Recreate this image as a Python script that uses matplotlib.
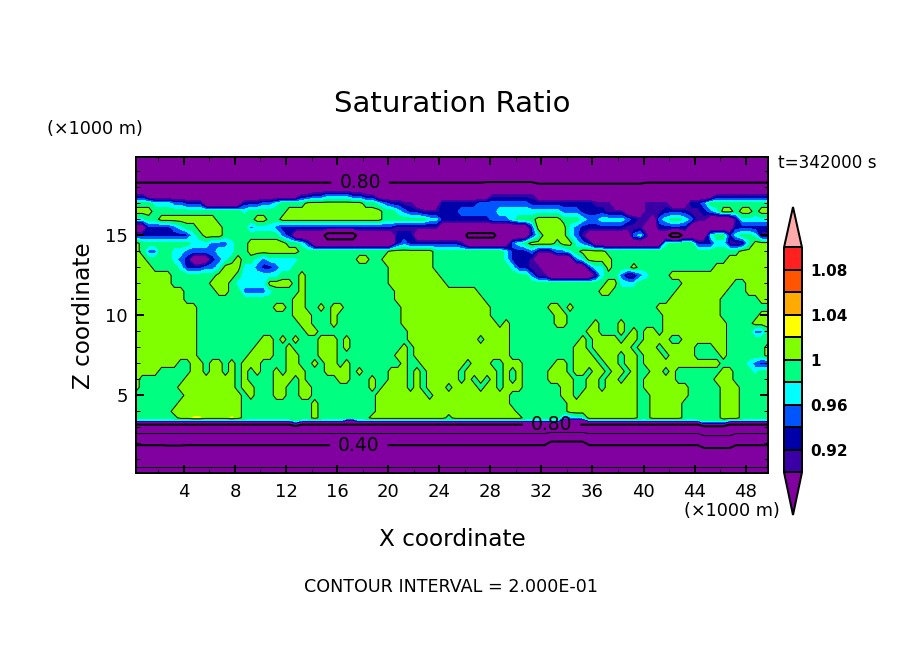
import numpy as np
import matplotlib
matplotlib.use("Agg")
import matplotlib.pyplot as plt

# saturation ratio: one entry per height, each row is
# 100 cells (500 m wide) written as runs, e.g. "G3 L2" = 3 green then 2 lime
cell_values = {
    "P": 0.85, "I": 0.91, "D": 0.93, "B": 0.95, "C": 0.97, "G": 0.99,
    "L": 1.01, "z": 1.022, "x": 0.75, "w": 0.78,
    "s": 0.70, "r": 0.72, "t": 0.75, "v": 0.76,
    "k": 0.69, "i": 0.44, "h": 0.50, "j": 0.56,
    "f": 0.29, "d": 0.34, "c": 0.33, "e": 0.37, "b": 0.29, "a": 0.12,
}

heights = [
    19.9, 18.6, 18.0, 17.5, 17.0, 16.5, 16.0, 15.5, 15.0, 14.5, 14.0, 13.5,
    13.0, 12.5, 12.0, 11.5, 11.0, 10.5, 10.0, 9.5, 9.0, 8.5, 8.0, 7.5, 7.0,
    6.5, 6.0, 5.5, 5.0, 4.5, 4.0, 3.6, 3.45, 3.3, 2.9, 2.3, 1.6, 1.0, 0.15,
]

rows = [
    "s100",
    "t55 v8 r17 t20",
    "P100",
    "I2 P24 I2 D2 B4 D2 I2 P18 I7 P28 I9",
    "G3 C3 B2 D3 P6 D3 B2 C1 G4 L9 G2 C1 B1 D2 I2 P4 D6 B8 D10 I3 P5 I4 P3 D2 B1 G10",
    "L3 G14 C1 G6 L15 G2 C1 B1 D2 I3 D3 B6 C10 B3 D4 I3 P3 I3 D4 I2 D1 B1 C1 L2 G1 L2 G1 L2",
    "C2 G2 L9 G6 L2 G2 L16 G7 C2 D8 B3 C1 G3 L4 G3 C1 B2 C4 B1 D1 I2 P1 B1 C1 G2 C1 B1 I2 P4 I1 C5",
    "P2 D4 B1 C1 G2 L4 G4 B1 C3 B1 D18 I7 P14 D1 L5 C1 B1 D7 I3 P2 D5 P7 D6",
    "D9 C1 G1 L3 G9 B1 D1 P5 x5 P6 D3 P8 w5 P5 D1 C1 L4 C1 B1 I1 P7 B1 C1 I1 P3 x2 P4 C1 G2 D1 C1 G2 C1 I2",
    "L1 G8 C3 B3 C1 G2 L6 G2 C1 D1 P13 D1 B1 D8 I1 P7 B1 C1 G1 L4 G1 L2 C1 B1 D1 P11 C1 G4 D3 C2 I3 C1 L3",
    "L1 G1 B2 G2 C2 B5 C3 G2 L8 G14 L7 G3 G8 C1 D3 B1 I3 B2 C1 G1 L4 G21 L5",
    "L2 G4 C1 B1 D1 P3 D1 B1 C1 G1 L1 G2 C1 B1 C5 G9 L2 G2 L8 G3 G8 C1 D3 I1 P6 B1 C1 L4 G18 L7",
    "L3 G4 C1 D3 B2 C1 L3 C2 B1 D2 B1 C2 G15 L7 G3 G9 C1 D2 I2 P7 D1 C2 L1 G3 L1 G12 L9",
    "L6 G7 L3 G1 C6 G3 L1 G13 L8 G2 G12 B1 I2 P7 I1 C1 G2 B1 I2 B1 C1 G3 L16",
    "L6 G6 L3 G1 C5 L4 G1 L1 G13 L9 G1 G24 L2 C3 G7 L8 G2 L4",
    "L8 G5 L2 G2 B4 C1 G4 L1 G14 L9 L4 G19 L2 G10 L8 G3 L4",
    "L8 G17 L2 G14 L9 L5 G29 L8 G6 L2",
    "L10 G12 L2 G1 L2 G2 L1 G1 L2 G9 L8 L6 G9 L2 G1 L1 G13 L10 G8",
    "L10 G15 L3 G3 L1 G10 L8 L6 G10 L2 G15 L9 G6 L2",
    "L10 G16 L2 G3 L1 G10 L8 L7 G1 L1 G7 L2 G4 L1 G3 L1 G6 L10 G4 L3",
    "L10 G17 L2 G14 L7 L9 G12 L2 G3 L1 G1 L1 G1 L2 G1 L10 G4 B2 G1",
    "L10 G10 L2 G1 L1 G1 L1 G3 L3 G1 L1 G9 L7 L4 G1 L4 G11 L1 G1 L4 G1 L2 G1 L4 G2 L7 G7",
    "L10 G9 L3 G2 L1 G4 L3 G1 L1 G8 L1 G1 L6 L9 G10 L2 G1 L6 G1 L3 G1 L5 G3 L2 G6 L1",
    "L10 G8 L4 G2 L2 G3 L3 G9 L2 G1 L6 L9 G10 L3 G1 L3 G1 L2 G1 L3 G1 L4 G4 L1 G6 L1",
    "L7 G2 L2 G1 L2 G1 L1 G1 L3 G4 L2 G2 L1 G1 L2 G1 L1 G8 L1 G2 L5 L2 G1 L3 G2 L3 G5 L2 G1 L4 G1 L2 G1 L2 G1 L12 G4 C1 B1 D2",
    "L4 G5 L2 G1 L2 G1 L1 G1 L1 G1 L1 G2 L1 G1 L3 G3 L4 G1 L1 G4 L3 G1 L1 G1 L4 L1 G1 L5 G1 L1 G1 L1 G4 L3 G1 L2 G1 L2 G1 L2 G1 L1 G2 L2 G1 L1 G7 L2 G3 C1 G2",
    "L1 G7 L8 G1 L1 G4 L3 G1 L1 G5 L2 G3 L1 G2 L3 G1 L1 G1 L4 L1 G1 L1 G1 L1 G1 L1 G1 L1 G1 L1 G4 L4 G2 L2 G1 L2 G1 L2 G1 L5 G6 L3 G6",
    "L1 G6 L9 G1 L2 G3 L2 G2 L2 G9 L1 G1 L4 G1 L1 G1 L3 G1 L4 G1 L2 G1 L3 G6 L2 G2 L2 G1 L5 G1 L7 G5 L3 G5",
    "G8 L9 G1 L1 G3 L2 G2 L2 G10 L8 G1 L3 L9 G8 L2 G1 L9 G2 L6 G5 L3 G5",
    "G7 L10 G11 L1 G9 L12 L9 G9 L11 G2 L5 G6 L3 G5",
    "G6 L11 G11 L1 G9 L12 L10 G8 L11 G2 L5 G6 L3 G5",
    "G7 L2 z2 L4 z1 L1 G11 L1 G8 L12 G1 L11 G6 B2 C2 L8 G2 L5 G6 L3 G5",
    "C25 G1 C7 I2 C32 P4 C18 G4 C7",
    "P25 D1 P63 B4 P7",
    "k100",
    "h65 i6 h18 j5 h6",
    "c5 d3 c57 f6 c18 e5 c6",
    "b100",
    "a100",
]

bar_levels = [0.90, 0.92, 0.94, 0.96, 0.98, 1.00, 1.02, 1.04, 1.06, 1.08, 1.10]
bar_colors = ["#8000a0", "#3a00a5", "#0000aa", "#0055ff", "#00ffff", "#00ff80",
              "#80ff00", "#ffff00", "#ffaa00", "#ff5500", "#ff2020", "#ffaaaa"]
bar_ticks = [0.92, 0.96, 1.00, 1.04, 1.08]
bar_tick_labels = ["0.92", "0.96", "1", "1.04", "1.08"]
line_levels = [0.2, 0.4, 0.6, 0.8, 1.0]
line_widths = [0.72, 1.44, 0.72, 1.44, 0.72]
label_spots = [(17.8, 18.3), (17.7, 1.92), (32.8, 3.2)]
x_ticks = [4, 8, 12, 16, 20, 24, 28, 32, 36, 40, 44, 48]
y_ticks = [5, 10, 15]


def decode(row):
    out = []
    for run in row.split():
        out += [cell_values[run[0]]] * int(run[1:])
    if len(out) != 100:
        raise ValueError(f"{len(out)} cells in {row}")
    return out


z = np.array([decode(r) for r in rows])
x = 0.25 + 0.5 * np.arange(100)
y = np.array(heights)

W, H = 904, 654
fig = plt.figure(figsize=(W / 100, H / 100), dpi=100)
ax = fig.add_axes([136 / W, 1 - 473 / H, 632 / W, 316 / H])

cf = ax.contourf(x, y, z, levels=bar_levels, colors=bar_colors[1:-1], extend="both", antialiased=False)
cf.cmap.set_under(bar_colors[0])
cf.cmap.set_over(bar_colors[-1])
cf.changed()
cs = ax.contour(x, y, z, levels=line_levels, colors="k", linewidths=line_widths)
ax.clabel(cs, fmt="%.2f", fontsize=13.5, manual=label_spots, inline_spacing=8)

ax.set_xlim(0.25, 49.75)
ax.set_ylim(0.15, 19.9)
ax.set_xticks(x_ticks)
ax.set_yticks(y_ticks)
ax.set_xticks(np.arange(2, 50, 4), minor=True)
ax.set_yticks(np.arange(1, 20), minor=True)
ax.tick_params(which="major", direction="in", top=True, right=True, length=5.8, width=1.44, labelsize=13)
ax.tick_params(axis="x", which="major", pad=7.5)
ax.tick_params(axis="y", which="major", pad=6)
ax.tick_params(which="minor", direction="in", top=True, right=True, length=2.9, width=0.72)
for spine in ax.spines.values():
    spine.set_linewidth(1.44)

# extensions are drawn inside the colorbar axes, so it spans tip to tip
cax = fig.add_axes([784 / W, 1 - 515 / H, 18 / W, 308 / H])
cb = fig.colorbar(cf, cax=cax, extend="both", extendfrac=[0.19, 0.18], drawedges=True)
cb.set_ticks(bar_ticks)
cb.set_ticklabels(bar_tick_labels)
cb.ax.tick_params(length=0, labelsize=11, pad=6)
cb.ax.minorticks_off()
cb.outline.set_linewidth(1.44)
cb.dividers.set_linewidth(1.44)
cb.dividers.set_color("k")
for label in cb.ax.get_yticklabels():
    label.set_fontweight("bold")


def put(px, py, text, **kw):
    fig.text(px / W, 1 - py / H, text, va="center", **kw)


put(452, 104, "Saturation Ratio", ha="center", fontsize=21)
put(47, 129, "(\u00d71000 m)", ha="left", fontsize=12.7)
put(684, 511, "(\u00d71000 m)", ha="left", fontsize=12.7)
put(778, 163, "t=342000 s", ha="left", fontsize=12.1)
put(452, 539, "X coordinate", ha="center", fontsize=16.7)
put(83, 316, "Z coordinate", ha="center", rotation=90, fontsize=16.7)
put(451, 587, "CONTOUR INTERVAL = 2.000E-01", ha="center", fontsize=12.6)

fig.savefig("out.png", dpi=100)
